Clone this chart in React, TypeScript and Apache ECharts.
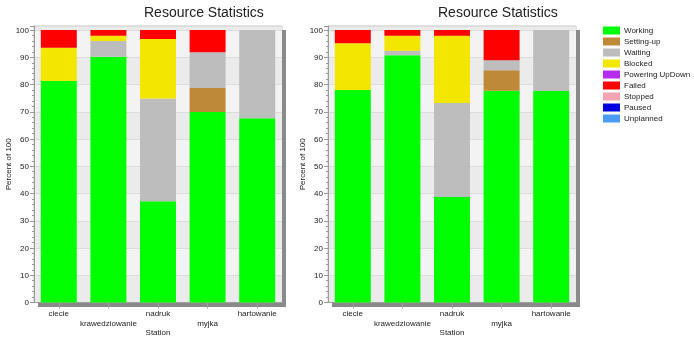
import React, { useEffect, useRef } from "react";
import * as echarts from "echarts";

const categories = ["ciecie", "krawedziowanie", "nadruk", "myjka", "hartowanie"];
const statusNames = ["Working", "Setting-up", "Waiting", "Blocked", "Powering UpDown", "Failed", "Stopped", "Paused", "Unplanned"];
const statusColors = ["#00ff00", "#bf8a37", "#bdbdbd", "#f3e600", "#b52cf0", "#ff0000", "#f4a3b3", "#0000e0", "#4b9cf5"];
const yTicks = [0, 10, 20, 30, 40, 50, 60, 70, 80, 90, 100];

// Left chart values (percent)
const leftWorking = [81.3, 90.2, 37.2, 69.9, 67.6];
const leftSettingUp = [0, 0, 0, 8.8, 0];
const leftWaiting = [0, 5.8, 37.7, 13.2, 32.4];
const leftBlocked = [12.2, 1.9, 21.8, 0, 0];
const leftPowering = [0, 0, 0, 0, 0];
const leftFailed = [6.5, 2.1, 3.3, 8.1, 0];
const leftStopped = [0, 0, 0, 0, 0];
const leftPaused = [0, 0, 0, 0, 0];
const leftUnplanned = [0, 0, 0, 0, 0];

// Right chart values (percent)
const rightWorking = [78.0, 90.8, 38.7, 77.7, 77.6];
const rightSettingUp = [0, 0, 0, 7.6, 0];
const rightWaiting = [0, 1.6, 34.5, 3.6, 22.4];
const rightBlocked = [17.2, 5.5, 24.7, 0, 0];
const rightPowering = [0, 0, 0, 0, 0];
const rightFailed = [4.8, 2.1, 2.1, 11.1, 0];
const rightStopped = [0, 0, 0, 0, 0];
const rightPaused = [0, 0, 0, 0, 0];
const rightUnplanned = [0, 0, 0, 0, 0];

const leftData = [leftWorking, leftSettingUp, leftWaiting, leftBlocked, leftPowering, leftFailed, leftStopped, leftPaused, leftUnplanned];
const rightData = [rightWorking, rightSettingUp, rightWaiting, rightBlocked, rightPowering, rightFailed, rightStopped, rightPaused, rightUnplanned];

const FONT = "Liberation Sans, Arial, sans-serif";

export default function App() {
  const ref = useRef<HTMLDivElement>(null);
  useEffect(() => {
    if (!ref.current) return;
    const chart = echarts.init(ref.current, null, { renderer: "svg" });
    const gridW = 248;
    const gridH = 276.5;
    const gridTop = 26;
    const lefts = [34, 328];
    const yMax = 101.5;

    const grids = lefts.map((l) => ({
      left: l,
      top: gridTop,
      width: gridW,
      height: gridH,
      show: true,
      backgroundColor: "#efefef",
      borderColor: "#c4c4c4",
      borderWidth: 1,
      outerBoundsMode: "none",
      containLabel: false,
    }));

    const xAxes = lefts.map((_, i) => ({
      type: "category",
      gridIndex: i,
      data: categories,
      axisLine: { show: true, lineStyle: { color: "#a0a0a0" } },
      axisTick: { show: true, alignWithLabel: true, length: 6, lineStyle: { color: "#a0a0a0" } },
      axisLabel: {
        interval: 0,
        fontFamily: FONT,
        fontSize: 8,
        color: "#222",
        margin: 6,
        lineHeight: 10,
        formatter: (v: string, idx: number) => (idx % 2 === 1 ? "\n" + v : v),
      },
      name: "Station",
      nameLocation: "middle",
      nameGap: 26,
      nameMoveOverlap: false,
      nameTextStyle: { fontFamily: FONT, fontSize: 8, color: "#222" },
    }));

    const yAxes = lefts.map((_, i) => ({
      type: "value",
      gridIndex: i,
      min: 0,
      max: yMax,
      interval: 10,
      axisLine: { show: true, lineStyle: { color: "#9a9a9a" } },
      axisTick: { show: true, length: 4, lineStyle: { color: "#9a9a9a" } },
      minorTick: { show: true, splitNumber: 5, length: 2, lineStyle: { color: "#9a9a9a" } },
      axisLabel: {
        fontFamily: FONT,
        fontSize: 8,
        color: "#222",
        margin: 5,
        showMaxLabel: false,
        formatter: (v: number) => (yTicks.includes(v) ? String(v) : ""),
      },
      splitLine: { show: true, lineStyle: { color: "#dcdcdc" } },
      splitArea: { show: true, areaStyle: { color: ["#ebebeb", "#f3f3f3"] } },
      name: "Percent of 100",
      nameLocation: "middle",
      nameGap: 22,
      nameRotate: 90,
      nameMoveOverlap: false,
      nameTextStyle: { fontFamily: FONT, fontSize: 8, color: "#222" },
    }));

    const series: any[] = [];
    [leftData, rightData].forEach((dataset, gi) => {
      statusNames.forEach((name, si) => {
        series.push({
          type: "bar",
          name,
          xAxisIndex: gi,
          yAxisIndex: gi,
          stack: gi === 0 ? "left" : "right",
          barWidth: 36,
          itemStyle: { color: statusColors[si] },
          data: dataset[si],
        });
      });
    });

    const shadows: any[] = [];
    lefts.forEach((l) => {
      shadows.push({
        type: "rect",
        shape: { x: l + gridW, y: gridTop + 4, width: 4, height: gridH + 0.5 },
        style: { fill: "#8a8a8a" },
        silent: true,
      });
      shadows.push({
        type: "rect",
        shape: { x: l + 4, y: gridTop + gridH + 0.5, width: gridW, height: 4 },
        style: { fill: "#8a8a8a" },
        silent: true,
      });
    });

    chart.setOption({
      animation: false,
      title: [
        { text: "Resource Statistics", left: 144, top: 5, padding: 0, textStyle: { fontFamily: FONT, fontSize: 14, fontWeight: "normal", color: "#222" } },
        { text: "Resource Statistics", left: 438, top: 5, padding: 0, textStyle: { fontFamily: FONT, fontSize: 14, fontWeight: "normal", color: "#222" } },
      ],
      legend: {
        orient: "vertical",
        left: 603,
        top: 25,
        padding: 0,
        icon: "rect",
        itemWidth: 17,
        itemHeight: 8,
        itemGap: 0,
        data: statusNames,
        textStyle: { fontFamily: FONT, fontSize: 8, color: "#222", lineHeight: 11, padding: [0, 0, 0, -1] },
        selectedMode: false,
      },
      grid: grids,
      xAxis: xAxes,
      yAxis: yAxes,
      series,
      graphic: shadows,
    });
    return () => chart.dispose();
  }, []);
  return <div ref={ref} style={{ position: "fixed", left: 0, top: 0, width: 694, height: 338 }} />;
}
